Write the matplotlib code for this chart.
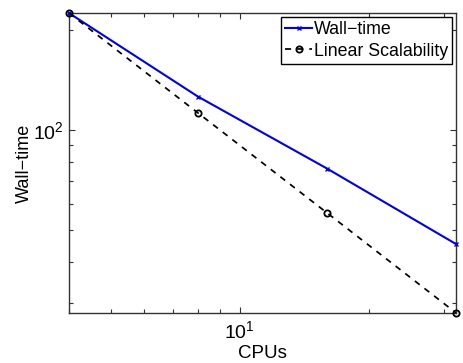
import matplotlib
matplotlib.use('Agg')
import matplotlib.pyplot as plt
from matplotlib.ticker import LogLocator, NullFormatter, LogFormatterMathtext

plt.rcParams['font.family'] = ['Liberation Sans', 'DejaVu Sans']
plt.rcParams['mathtext.fontset'] = 'custom'
plt.rcParams['mathtext.rm'] = 'Liberation Sans'

# Data
cpus = [4, 8, 16, 32]
wall_time = [225, 126, 76.5, 45.3]
linear_scalability = [225, 112.5, 56.25, 28.1]

fig = plt.figure(figsize=(4.63, 3.63), dpi=100)
ax = fig.add_axes([0.149, 0.138, 0.836, 0.826])

ax.loglog(cpus, wall_time, color='#0000ee', lw=1.5, marker='x', ms=3.5,
          mew=1.0, label='Wall\u2212time', clip_on=False, zorder=3)
ax.loglog(cpus, linear_scalability, color='black', lw=1.25, ls=(0, (3.5, 3.5)),
          marker='o', ms=4.5, mfc='none', mew=1.3, label='Linear Scalability',
          clip_on=False, zorder=3)

ax.set_xlim(4, 32)
ax.set_ylim(28.1, 225)

ax.xaxis.set_major_locator(LogLocator(base=10))
ax.yaxis.set_major_locator(LogLocator(base=10))
ax.xaxis.set_minor_locator(LogLocator(base=10, subs=range(2, 10)))
ax.yaxis.set_minor_locator(LogLocator(base=10, subs=range(2, 10)))
ax.xaxis.set_minor_formatter(NullFormatter())
ax.yaxis.set_minor_formatter(NullFormatter())
ax.xaxis.set_major_formatter(LogFormatterMathtext())
ax.yaxis.set_major_formatter(LogFormatterMathtext())

ax.tick_params(which='both', direction='in', top=True, right=True,
               labelsize=14, color='#333333', width=0.8)
ax.tick_params(which='major', length=4)
ax.tick_params(axis='x', which='major', pad=5)
ax.tick_params(axis='y', which='major', pad=4)
ax.tick_params(which='minor', length=3)
for s in ax.spines.values():
    s.set_color('#333333')
    s.set_linewidth(1.0)

ax.set_xlabel('CPUs', fontsize=13.5, labelpad=2)
ax.set_ylabel('Wall\u2212time', fontsize=13, labelpad=0)

leg = ax.legend(loc='upper right', fontsize=12.8, handlelength=1.5,
                handletextpad=0.1, borderpad=0.25, labelspacing=0.25,
                fancybox=False, framealpha=1, borderaxespad=0.2)
leg.get_frame().set_edgecolor('black')
leg.get_frame().set_linewidth(1.0)
leg.set_zorder(5)

fig.savefig('out.png', dpi=100)
